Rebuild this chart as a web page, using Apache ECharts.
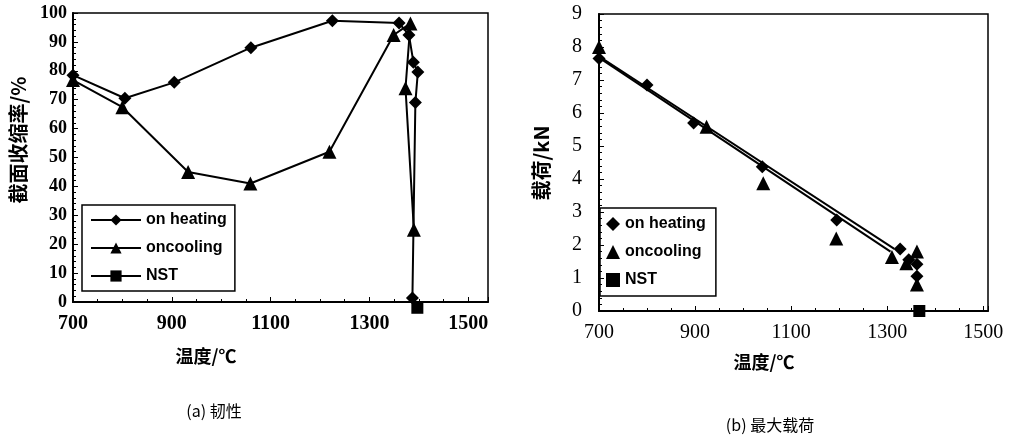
<!DOCTYPE html>
<html>
<head>
<meta charset="utf-8">
<script src="https://cdn.jsdelivr.net/npm/echarts@6/dist/echarts.min.js"></script>
<style>
  html, body { margin: 0; padding: 0; background: #fff; }
  #chart { width: 1011px; height: 440px; }
</style>
</head>
<body>
<div id="chart"></div>
<script>
// (a) 韧性：截面收缩率 vs 温度
const heatTempA = [700, 805, 905, 1060, 1225, 1360, 1380, 1389, 1398, 1393, 1387];
const heatRoA   = [78.5, 70.5, 76, 88, 97.3, 96.5, 92.4, 83, 79.6, 69, 1.4];
const coolTempA = [700, 800, 933, 1059, 1219, 1349, 1383, 1373, 1390];
const coolRoA   = [76.8, 67.4, 45, 41, 52, 92.4, 96.4, 74, 25];
const nstTempA  = [1397];
const nstRoA    = [-2];

// (b) 最大载荷：载荷 vs 温度
const heatTempB = [700, 800, 897, 1040, 1195, 1327, 1345, 1362, 1362];
const heatLoadB = [7.65, 6.85, 5.7, 4.37, 2.76, 1.88, 1.55, 1.42, 1.05];
const coolTempB = [700, 924, 1042, 1194, 1310, 1340, 1362, 1362];
const coolLoadB = [8.0, 5.58, 3.87, 2.2, 1.64, 1.45, 1.8, 0.8];
const nstTempB  = [1367];
const nstLoadB  = [0];
// 两条拟合直线
const heatFitT = [700, 1315];
const heatFitL = [7.72, 1.88];
const coolFitT = [700, 1307];
const coolFitL = [7.68, 1.8];

const tickLabelsA = [700, 900, 1100, 1300, 1500];

const zip = (xs, ys) => xs.map((x, i) => [x, ys[i]]);

const chart = echarts.init(document.getElementById('chart'));

const serifBold = { fontFamily: 'Liberation Serif', fontWeight: 'bold', color: '#000' };
const serif = { fontFamily: 'Liberation Serif', color: '#000' };
const cjk = '"Noto Sans CJK SC"';

const xLabelFmt = v => (tickLabelsA.indexOf(v) >= 0 ? String(v) : '');

const option = {
  animation: false,
  backgroundColor: '#fff',
  grid: [
    { left: 73, top: 13, width: 415, height: 289, show: true, borderColor: '#000', borderWidth: 1.5, backgroundColor: 'transparent' },
    { left: 599, top: 14, width: 389, height: 297, show: true, borderColor: '#000', borderWidth: 1.5, backgroundColor: 'transparent' }
  ],
  xAxis: [
    {
      gridIndex: 0, type: 'value', min: 700, max: 1540, interval: 200,
      axisLine: { lineStyle: { color: '#000', width: 2 } },
      axisTick: { inside: true, length: 5, lineStyle: { color: '#000' } },
      minorTick: { show: true, splitNumber: 4, length: 3, lineStyle: { color: '#000' } },
      splitLine: { show: false },
      axisLabel: Object.assign({ fontSize: 20, margin: 12, formatter: xLabelFmt }, serifBold)
    },
    {
      gridIndex: 1, type: 'value', min: 700, max: 1510, interval: 200,
      axisLine: { lineStyle: { color: '#000', width: 2 } },
      axisTick: { inside: true, length: 5, lineStyle: { color: '#000' } },
      minorTick: { show: true, splitNumber: 4, length: 3, lineStyle: { color: '#000' } },
      splitLine: { show: false },
      axisLabel: Object.assign({ fontSize: 20, margin: 12, formatter: xLabelFmt }, serif)
    }
  ],
  yAxis: [
    {
      gridIndex: 0, type: 'value', min: 0, max: 100, interval: 10,
      axisLine: { show: true, lineStyle: { color: '#000', width: 2 } },
      axisTick: { show: true, inside: true, length: 5, lineStyle: { color: '#000' } },
      minorTick: { show: true, splitNumber: 5, length: 3, lineStyle: { color: '#000' } },
      splitLine: { show: false },
      axisLabel: Object.assign({ fontSize: 18, margin: 6 }, serifBold)
    },
    {
      gridIndex: 1, type: 'value', min: 0, max: 9, interval: 1,
      axisLine: { show: true, lineStyle: { color: '#000', width: 2 } },
      axisTick: { show: true, inside: true, length: 5, lineStyle: { color: '#000' } },
      minorTick: { show: true, splitNumber: 5, length: 3, lineStyle: { color: '#000' } },
      splitLine: { show: false },
      axisLabel: Object.assign({ fontSize: 20, margin: 17 }, serif)
    }
  ],
  legend: [
    {
      data: ['on heating', 'oncooling', 'NST'],
      orient: 'vertical', left: 82, top: 205,
      padding: [6, 8, 6, 8], itemGap: 10, itemWidth: 50, itemHeight: 14,
      borderColor: '#000', borderWidth: 1.5, borderRadius: 0,
      selectedMode: false,
      textStyle: { fontFamily: 'Liberation Sans', fontWeight: 'bold', fontSize: 16, color: '#000', lineHeight: 18 }
    },
    {
      data: ['b-on heating', 'b-oncooling', 'b-NST'],
      orient: 'vertical', left: 600, top: 208,
      padding: [7, 10, 7, 6], itemGap: 10, itemWidth: 14, itemHeight: 14,
      borderColor: '#000', borderWidth: 1.5, borderRadius: 0,
      selectedMode: false,
      formatter: name => name.replace('b-', ''),
      textStyle: { fontFamily: 'Liberation Sans', fontWeight: 'bold', fontSize: 16, color: '#000', lineHeight: 18 }
    }
  ],
  series: [
    {
      name: 'on heating', type: 'line', xAxisIndex: 0, yAxisIndex: 0,
      data: zip(heatTempA, heatRoA), symbol: 'diamond', symbolSize: 13,
      lineStyle: { color: '#000', width: 2 }, itemStyle: { color: '#000' }
    },
    {
      name: 'oncooling', type: 'line', xAxisIndex: 0, yAxisIndex: 0,
      data: zip(coolTempA, coolRoA), symbol: 'triangle', symbolSize: 14,
      lineStyle: { color: '#000', width: 2 }, itemStyle: { color: '#000' }
    },
    {
      name: 'NST', type: 'line', xAxisIndex: 0, yAxisIndex: 0, clip: false,
      data: zip(nstTempA, nstRoA), symbol: 'rect', symbolSize: 12,
      lineStyle: { color: '#000', width: 2 }, itemStyle: { color: '#000' }
    },
    {
      type: 'line', xAxisIndex: 1, yAxisIndex: 1, silent: true, showSymbol: false,
      data: zip(heatFitT, heatFitL), lineStyle: { color: '#000', width: 2 }
    },
    {
      type: 'line', xAxisIndex: 1, yAxisIndex: 1, silent: true, showSymbol: false,
      data: zip(coolFitT, coolFitL), lineStyle: { color: '#000', width: 2 }
    },
    {
      name: 'b-on heating', type: 'scatter', xAxisIndex: 1, yAxisIndex: 1,
      data: zip(heatTempB, heatLoadB), symbol: 'diamond', symbolSize: 13,
      itemStyle: { color: '#000', opacity: 1 }
    },
    {
      name: 'b-oncooling', type: 'scatter', xAxisIndex: 1, yAxisIndex: 1,
      data: zip(coolTempB, coolLoadB), symbol: 'triangle', symbolSize: 14,
      itemStyle: { color: '#000', opacity: 1 }
    },
    {
      name: 'b-NST', type: 'scatter', xAxisIndex: 1, yAxisIndex: 1, clip: false,
      data: zip(nstTempB, nstLoadB), symbol: 'rect', symbolSize: 12,
      itemStyle: { color: '#000', opacity: 1 }
    }
  ],
  graphic: [
    { type: 'text', x: 18, y: 140, rotation: Math.PI / 2,
      style: { text: '截面收缩率/%', font: 'bold 20px ' + cjk, fill: '#000', align: 'center', verticalAlign: 'middle' } },
    { type: 'text', x: 541, y: 163, rotation: Math.PI / 2,
      style: { text: '载荷/kN', font: 'bold 20px ' + cjk, fill: '#000', align: 'center', verticalAlign: 'middle' } },
    { type: 'text', x: 206, y: 356,
      style: { text: '温度/℃', font: 'bold 18px ' + cjk, fill: '#000', align: 'center', verticalAlign: 'middle' } },
    { type: 'text', x: 764, y: 362,
      style: { text: '温度/℃', font: 'bold 18px ' + cjk, fill: '#000', align: 'center', verticalAlign: 'middle' } },
    { type: 'text', x: 214, y: 411,
      style: { text: '(a) 韧性', font: '16px ' + cjk, fill: '#000', align: 'center', verticalAlign: 'middle' } },
    { type: 'text', x: 770, y: 425,
      style: { text: '(b) 最大载荷', font: '16px ' + cjk, fill: '#000', align: 'center', verticalAlign: 'middle' } }
  ]
};

chart.setOption(option);
</script>
</body>
</html>
